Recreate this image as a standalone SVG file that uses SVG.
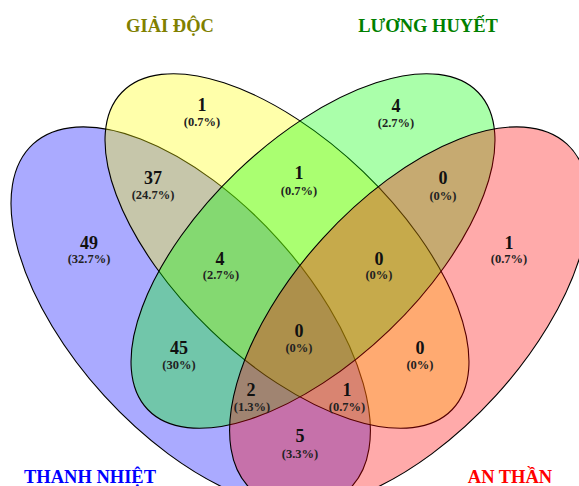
<svg xmlns="http://www.w3.org/2000/svg" width="579" height="486" viewBox="0 0 579 486">
<style>
.set{stroke:#000;stroke-width:1.1;fill-opacity:0.333}
.cat{font-family:"Liberation Serif","Times New Roman",serif;font-weight:bold;font-size:18.5px;text-anchor:middle}
.n{font-family:"Liberation Serif","Times New Roman",serif;font-weight:bold;font-size:18px;text-anchor:middle;fill:#111}
.p{font-family:"Liberation Serif","Times New Roman",serif;font-weight:bold;font-size:12.5px;text-anchor:middle;fill:#222}
</style>
<rect width="579" height="486" fill="#fff"/>
<g id="set-thanh-nhiet">
<ellipse class="set" cx="190.7" cy="317" rx="234" ry="117" transform="rotate(47.7 190.7 317)" fill="#0000ff"/>
<text class="cat" x="90" y="483" fill="#0000ff">THANH NHIỆT</text>
</g>
<g id="set-giai-doc">
<ellipse class="set" cx="287" cy="251" rx="229" ry="110" transform="rotate(43.8 287 251)" fill="#ffff00"/>
<text class="cat" x="170" y="32" fill="#808000">GIẢI ĐỘC</text>
</g>
<g id="set-luong-huyet">
<ellipse class="set" cx="313" cy="251" rx="229" ry="110" transform="rotate(-43.8 313 251)" fill="#00ff00"/>
<text class="cat" x="428" y="32" fill="#008000">LƯƠNG HUYẾT</text>
</g>
<g id="set-an-than">
<ellipse class="set" cx="409.3" cy="317" rx="234" ry="117" transform="rotate(-47.7 409.3 317)" fill="#ff0000"/>
<text class="cat" x="510" y="483" fill="#ff0000">AN THẦN</text>
</g>
<g id="connectors"></g>
<g id="region-labels">
<text class="n" x="89" y="249">49</text><text class="p" x="89" y="263">(32.7%)</text>
<text class="n" x="202" y="111">1</text><text class="p" x="202" y="126">(0.7%)</text>
<text class="n" x="396" y="112">4</text><text class="p" x="396" y="127">(2.7%)</text>
<text class="n" x="509" y="249">1</text><text class="p" x="509" y="263">(0.7%)</text>
<text class="n" x="153" y="184">37</text><text class="p" x="153" y="199">(24.7%)</text>
<text class="n" x="299" y="179">1</text><text class="p" x="299" y="195">(0.7%)</text>
<text class="n" x="443" y="184">0</text><text class="p" x="443" y="200">(0%)</text>
<text class="n" x="220" y="265">4</text><text class="p" x="221" y="279">(2.7%)</text>
<text class="n" x="379" y="265">0</text><text class="p" x="379" y="279">(0%)</text>
<text class="n" x="299" y="337">0</text><text class="p" x="299" y="352">(0%)</text>
<text class="n" x="179" y="354">45</text><text class="p" x="179" y="369">(30%)</text>
<text class="n" x="420" y="354">0</text><text class="p" x="420" y="369">(0%)</text>
<text class="n" x="251" y="396">2</text><text class="p" x="252" y="411">(1.3%)</text>
<text class="n" x="347" y="396">1</text><text class="p" x="347" y="411">(0.7%)</text>
<text class="n" x="300" y="442">5</text><text class="p" x="300" y="458">(3.3%)</text>
</g>
</svg>
